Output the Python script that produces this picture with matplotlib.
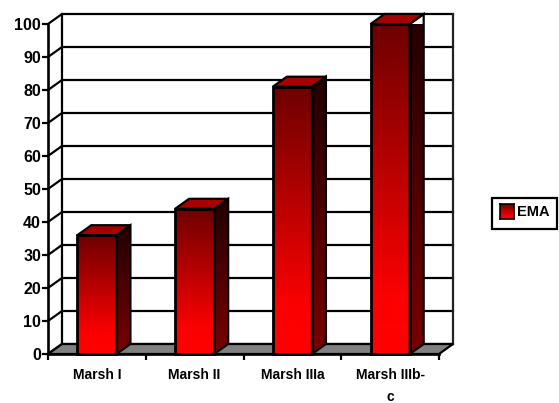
import numpy as np
import matplotlib
matplotlib.use("Agg")
import matplotlib.pyplot as plt
from matplotlib.colors import LinearSegmentedColormap
from matplotlib.patches import Polygon, Rectangle

categories = ["Marsh I", "Marsh II", "Marsh IIIa", "Marsh IIIb-\nc"]
ema_values = [36, 44, 81, 100]
y_ticks = [0, 10, 20, 30, 40, 50, 60, 70, 80, 90, 100]
series_name = "EMA"

W, H = 559, 403
plt.rcParams["font.family"] = ["Liberation Sans", "DejaVu Sans"]
plt.rcParams["font.weight"] = "bold"
fig = plt.figure(figsize=(W / 100, H / 100), dpi=100, facecolor="white")
L, R, T, B = 48, 439, 24, 354
ax = fig.add_axes([L / W, 1 - B / H, (R - L) / W, (B - T) / H])
ax.set_facecolor("none")
ax.set_xlim(-0.5, 3.5)
ax.set_ylim(0, 100)

DX = 14 / ((R - L) / 4)      # depth offset in data units
DY = 10 / ((B - T) / 100)
BW = 0.40
LW = 1.6
front = LinearSegmentedColormap.from_list("f", [(0, "#ff0000"), (0.18, "#fb0000"), (1, "#6e0000")])
side = LinearSegmentedColormap.from_list("s", [(0, "#7a0000"), (1, "#220000")])


def gradient(cmap, box, clip=None, z=3):
    g = np.linspace(1, 0, 128).reshape(-1, 1)
    im = ax.imshow(g, cmap=cmap, extent=box, aspect="auto", vmin=0, vmax=1,
                   zorder=z, interpolation="bilinear", clip_on=True)
    if clip is not None:
        im.set_clip_path(clip)
    else:
        im.set_clip_on(False)
    return im


def poly(pts, fc="none", z=2, lw=LW):
    p = Polygon(pts, closed=True, facecolor=fc, edgecolor="black", lw=lw, zorder=z,
                clip_on=False, joinstyle="miter")
    ax.add_patch(p)
    return p


# floor
poly([(-0.5, 0), (-0.5 + DX, DY), (3.5 + DX, DY), (3.5, 0)], fc="#808080", z=1.5)
# walls and gridlines
for v in y_ticks:
    ax.plot([-0.5, -0.5 + DX, 3.5 + DX], [v, v + DY, v + DY], color="black", lw=LW,
            clip_on=False, zorder=1, solid_joinstyle="miter")
ax.plot([-0.5 + DX] * 2, [DY, 100 + DY], color="black", lw=LW, clip_on=False, zorder=1)
ax.plot([3.5 + DX] * 2, [DY, 100 + DY], color="#222222", lw=LW, clip_on=False, zorder=1)

# bars
for i, v in enumerate(ema_values):
    x0, x1 = i - BW / 2, i + BW / 2
    z = 3 + i * 0.1
    gradient(front, (x0, x1, 0, v), z=z)
    ax.add_patch(Rectangle((x0, 0), BW, v, fc="none", ec="black", lw=LW + 0.4, zorder=z + 0.03, clip_on=False))
    s = poly([(x1, 0), (x1 + DX, DY), (x1 + DX, v + DY), (x1, v)], z=z + 0.02)
    im = gradient(side, (x1, x1 + DX, 0, v + DY), clip=s, z=z + 0.01)
    poly([(x0, v), (x0 + DX, v + DY), (x1 + DX, v + DY), (x1, v)], fc="#a80000", z=z + 0.02)

ax.set_xlim(-0.5, 3.5)
ax.set_ylim(0, 100)

for sp in ("top", "right"):
    ax.spines[sp].set_visible(False)
for sp in ("left", "bottom"):
    ax.spines[sp].set_linewidth(LW + 0.3)
    ax.spines[sp].set_zorder(6)
ax.set_yticks(y_ticks)
ax.tick_params(axis="y", length=4, width=LW, labelsize=11.5, pad=1)
ax.set_xticks(range(len(categories)))
ax.set_xticklabels(categories, fontsize=10, linespacing=1.75)
ax.set_xticks(np.arange(-0.5, 4, 1), minor=True)
ax.tick_params(axis="x", which="major", length=0, pad=10)
ax.tick_params(axis="x", which="minor", length=4, width=LW)
for t in ax.get_xticklabels() + ax.get_yticklabels():
    t.set_fontweight("bold")

# legend drawn in figure pixels
fig.patches.append(Rectangle((492 / W, 1 - 229 / H), 65 / W, 31 / H, transform=fig.transFigure,
                             fc="white", ec="black", lw=LW))
lax = fig.add_axes([500 / W, 1 - 219 / H, 14 / W, 15 / H], zorder=5)
lax.imshow(np.linspace(0, 1, 64).reshape(-1, 1), cmap=front.reversed(), aspect="auto", vmin=0, vmax=1)
lax.set_xticks([]); lax.set_yticks([])
for sp in lax.spines.values():
    sp.set_linewidth(1.2)
fig.text(517 / W, 1 - 212 / H, series_name, fontsize=10.5, fontweight="bold", va="center", ha="left", zorder=6)

fig.savefig("out.png", dpi=100)
